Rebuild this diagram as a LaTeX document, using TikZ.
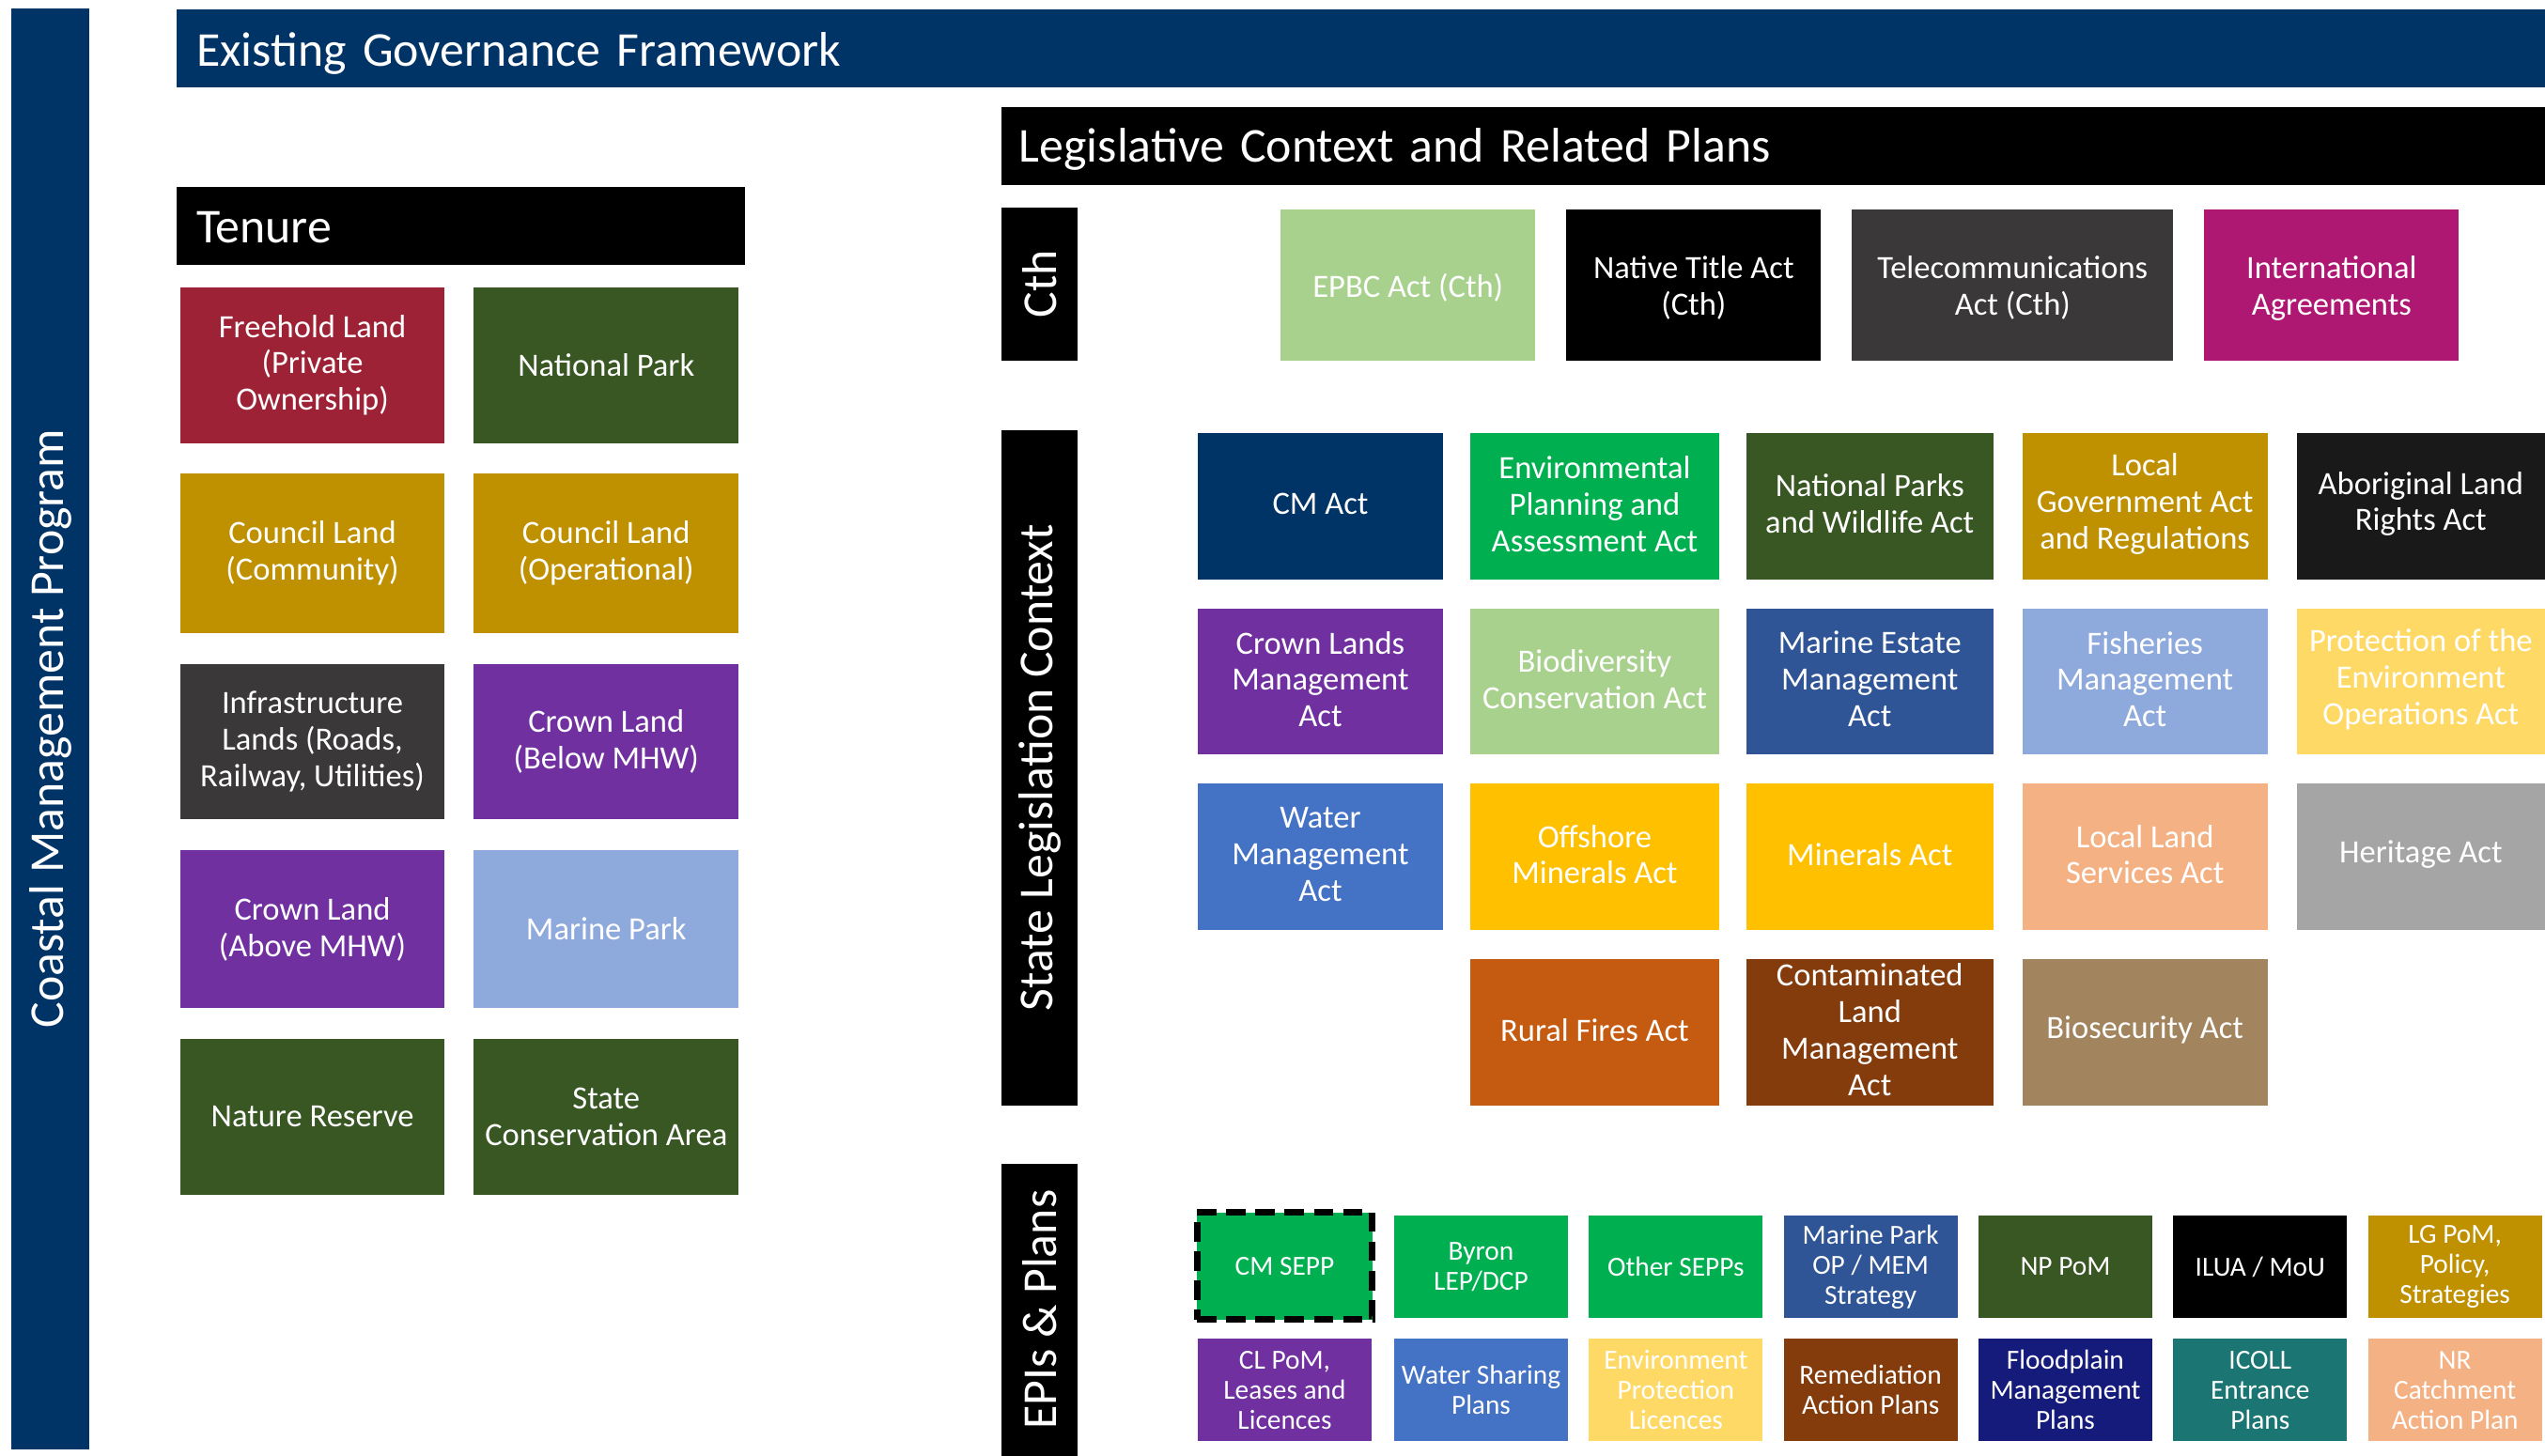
\documentclass[tikz,border=0pt]{standalone}
\usepackage{fontspec}
\setmainfont{Carlito}
\definecolor{navy}{RGB}{0,51,102}
\definecolor{crimson}{RGB}{158,34,53}
\definecolor{dgreen}{RGB}{56,87,35}
\definecolor{gold}{RGB}{191,144,0}
\definecolor{dgray}{RGB}{58,56,56}
\definecolor{purp}{RGB}{112,48,160}
\definecolor{lblue}{RGB}{142,169,219}
\definecolor{lgreen}{RGB}{169,209,142}
\definecolor{magen}{RGB}{174,24,114}
\definecolor{bgreen}{RGB}{0,176,80}
\definecolor{nblack}{RGB}{25,25,25}
\definecolor{mblue}{RGB}{47,85,151}
\definecolor{lyellow}{RGB}{255,217,102}
\definecolor{wblue}{RGB}{68,114,196}
\definecolor{amber}{RGB}{255,192,0}
\definecolor{peach}{RGB}{244,177,131}
\definecolor{mgray}{RGB}{165,165,165}
\definecolor{rust}{RGB}{197,90,17}
\definecolor{brown}{RGB}{132,60,12}
\definecolor{tan}{RGB}{162,132,94}
\definecolor{indigo}{RGB}{20,27,122}
\definecolor{teal}{RGB}{27,117,115}
\tikzset{
  boxbg/.style={inner sep=0pt},
  box/.style={inner sep=0pt, text=white, align=center, font=\fontsize{20}{22.5}\selectfont},
  hdrtext/.style={inner sep=0pt, text=white, align=left, font=\fontsize{30}{36}\selectfont},
  side/.style={rotate=90, inner sep=0pt, text=white, font=\fontsize{30}{36}\selectfont}
}
\newcommand\bx[7]{\node[boxbg,fill=#6,minimum width={#4-#2},minimum height={#5-#3},label={[box]center:#7}] (#1) at ({(#2+#4)/2},{(#3+#5)/2}) {};}
\begin{document}
\begin{tikzpicture}[x=1pt,y=-1pt]
\useasboundingbox (0,0) rectangle (1568,897);
% side bar and headers
\node[side, fill=navy, minimum width=888, minimum height=48] (cmp) at (31,449) {Coastal Management Program};
\node[boxbg, fill=navy, minimum width=1459, minimum height=48,
  label={[hdrtext, text width=1435, yshift=-3pt]center:Existing Governance Framework}] (title) at ({(109+1568)/2},30) {};
\node[boxbg, fill=black, minimum width=350, minimum height=48,
  label={[hdrtext, text width=326, yshift=-1pt]center:Tenure}] (tenure) at ({(109+459)/2},139) {};
\node[boxbg, fill=black, minimum width=951, minimum height=48,
  label={[hdrtext, text width=929, yshift=-2pt]center:Legislative Context and Related Plans}] (legis) at ({(617+1568)/2},90) {};
\node[side, fill=black, minimum width=94, minimum height=47] (cth) at (640.5,175) {Cth};
\node[side, fill=black, minimum width=416, minimum height=47] (state) at (640.5,473) {State Legislation Context};
\node[side, fill=black, minimum width=180, minimum height=47] (epis) at (640.5,807) {EPIs \& Plans};
% tenure
\bx{t1}{111}{177}{274}{273}{crimson}{Freehold Land\\(Private\\Ownership)}
\bx{t2}{292}{177}{455}{273}{dgreen}{National Park}
\bx{t3}{111}{292}{274}{390}{gold}{Council Land\\(Community)}
\bx{t4}{292}{292}{455}{390}{gold}{Council Land\\(Operational)}
\bx{t5}{111}{409}{274}{505}{dgray}{Infrastructure\\Lands (Roads,\\Railway, Utilities)}
\bx{t6}{292}{409}{455}{505}{purp}{Crown Land\\(Below MHW)}
\bx{t7}{111}{524}{274}{621}{purp}{Crown Land\\(Above MHW)}
\bx{t8}{292}{524}{455}{621}{lblue}{Marine Park}
\bx{t9}{111}{640}{274}{736}{dgreen}{Nature Reserve}
\bx{t10}{292}{640}{455}{736}{dgreen}{State\\Conservation Area}
% Cth
\begin{scope}[box/.append style={yshift=-2pt}]
\bx{c1}{789}{129}{946}{222}{lgreen}{EPBC Act (Cth)}
\bx{c2}{965}{129}{1122}{222}{black}{Native Title Act\\(Cth)}
\bx{c3}{1141}{129}{1339}{222}{dgray}{Telecommunications\\Act (Cth)}
\bx{c4}{1358}{129}{1515}{222}{magen}{International\\Agreements}
\end{scope}
% State
\begin{scope}[box/.append style={yshift=1.5pt}]
\bx{s11}{738}{267}{889}{357}{navy}{CM Act}
\bx{s12}{906}{267}{1059}{357}{bgreen}{Environmental\\Planning and\\Assessment Act}
\bx{s13}{1076}{267}{1228}{357}{dgreen}{National Parks\\and Wildlife Act}
\bx{s14}{1246}{267}{1397}{357}{gold}{Local\\Government Act\\and Regulations}
\bx{s15}{1415}{267}{1568}{357}{nblack}{Aboriginal Land\\Rights Act}
\bx{s21}{738}{375}{889}{465}{purp}{Crown Lands\\Management\\Act}
\bx{s22}{906}{375}{1059}{465}{lgreen}{Biodiversity\\Conservation Act}
\bx{s23}{1076}{375}{1228}{465}{mblue}{Marine Estate\\Management\\Act}
\bx{s24}{1246}{375}{1397}{465}{lblue}{Fisheries\\Management\\Act}
\bx{s25}{1415}{375}{1568}{465}{lyellow}{Protection of the\\Environment\\Operations Act}
\bx{s31}{738}{483}{889}{573}{wblue}{Water\\Management\\Act}
\bx{s32}{906}{483}{1059}{573}{amber}{Offshore\\Minerals Act}
\bx{s33}{1076}{483}{1228}{573}{amber}{Minerals Act}
\bx{s34}{1246}{483}{1397}{573}{peach}{Local Land\\Services Act}
\bx{s35}{1415}{483}{1568}{573}{mgray}{Heritage Act}
\bx{s42}{906}{591}{1059}{681}{rust}{Rural Fires Act}
\bx{s43}{1076}{591}{1228}{681}{brown}{Contaminated\\Land\\Management\\Act}
\bx{s44}{1246}{591}{1397}{681}{tan}{Biosecurity Act}
\end{scope}
% EPIs
\begin{scope}[box/.append style={font=\fontsize{17}{18.5}\selectfont}]
\node[boxbg, fill=bgreen, minimum width=108, minimum height=66, draw=black, line width=4pt,
  dash pattern=on 12pt off 6pt, label={[box]center:CM SEPP}] (e11) at ({(736+847)/2},{(747+813)/2}) {};
\bx{e12}{859}{749}{966}{812}{bgreen}{Byron\\LEP/DCP}
\bx{e13}{979}{749}{1086}{812}{bgreen}{Other SEPPs}
\bx{e14}{1099}{749}{1206}{812}{mblue}{Marine Park\\OP / MEM\\Strategy}
\bx{e15}{1219}{749}{1326}{812}{dgreen}{NP PoM}
\bx{e16}{1339}{749}{1446}{812}{black}{ILUA / MoU}
\bx{e17}{1459}{749}{1566}{812}{gold}{LG PoM,\\Policy,\\Strategies}
\bx{e21}{738}{825}{845}{888}{purp}{CL PoM,\\Leases and\\Licences}
\bx{e22}{859}{825}{966}{888}{wblue}{Water Sharing\\Plans}
\bx{e23}{979}{825}{1086}{888}{lyellow}{Environment\\Protection\\Licences}
\bx{e24}{1099}{825}{1206}{888}{brown}{Remediation\\Action Plans}
\bx{e25}{1219}{825}{1326}{888}{indigo}{Floodplain\\Management\\Plans}
\bx{e26}{1339}{825}{1446}{888}{teal}{ICOLL\\Entrance\\Plans}
\bx{e27}{1459}{825}{1566}{888}{peach}{NR\\Catchment\\Action Plan}
\end{scope}
\end{tikzpicture}
\end{document}
